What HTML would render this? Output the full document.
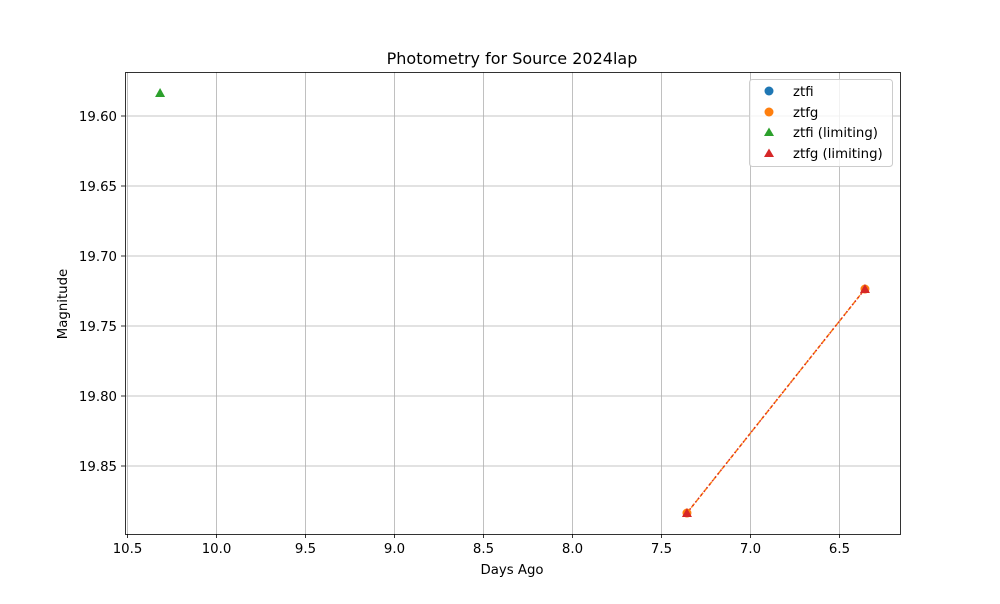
<!DOCTYPE html>
<html><head><meta charset="utf-8"><style>
body{margin:0;background:#fff;font-family:"DejaVu Sans","Liberation Sans",sans-serif}
svg text{font-family:"DejaVu Sans","Liberation Sans",sans-serif}
</style></head><body>
<svg id="chart" width="1000" height="600" xmlns="http://www.w3.org/2000/svg">
<rect width="1000" height="600" fill="#fff"/>
<g id="grid"></g>
<g id="ticks"></g>
<g id="series"></g>
<rect x="125.5" y="72.5" width="775" height="462" fill="none" stroke="#000" stroke-width="0.8"/>
<text x="512" y="64" text-anchor="middle" font-size="16">Photometry for Source 2024lap</text>
<text x="512" y="574" text-anchor="middle" font-size="13.3">Days Ago</text>
<text x="67" y="304" text-anchor="middle" font-size="13.3" transform="rotate(-90 67 304)">Magnitude</text>
<g>
<rect x="749.5" y="79.5" width="143" height="87" rx="3" fill="#fff" fill-opacity="0.8" stroke="#ccc"/>
<g><circle cx="769" cy="91" r="4.5" fill="#1f77b4"/><text x="793" y="96" font-size="13.3">ztfi</text></g>
<g><circle cx="769" cy="112" r="4.5" fill="#ff7f0e"/><text x="793" y="117" font-size="13.3">ztfg</text></g>
<g><path d="M769,127.5 L774,136 L764,136 Z" fill="#2ca02c"/><text x="793" y="137" font-size="13.3">ztfi (limiting)</text></g>
<g><path d="M769,148.5 L774,157 L764,157 Z" fill="#d62728"/><text x="793" y="158" font-size="13.3">ztfg (limiting)</text></g>
</g>
</svg>
<script>
const xTicks=[10.5,10.0,9.5,9.0,8.5,8.0,7.5,7.0,6.5];
const yTicks=[19.60,19.65,19.70,19.75,19.80,19.85];
const ztfgDays=[7.357,6.357];
const ztfgMag=[19.8836,19.7236];
const ztfiLimDays=[10.317];
const ztfiLimMag=[19.5836];
const ztfgLimDays=[7.357,6.357];
const ztfgLimMag=[19.8836,19.7236];
const NS="http://www.w3.org/2000/svg";
const xs=d=>127.5+(10.5-d)*178;
const ys=m=>116+(m-19.60)*1400;
function mk(t,a,p){const e=document.createElementNS(NS,t);for(const k in a)e.setAttribute(k,a[k]);p.appendChild(e);return e;}
const grid=document.getElementById('grid'),ticks=document.getElementById('ticks'),ser=document.getElementById('series');
xTicks.forEach(v=>{const x=xs(v);
 const g=mk('line',{x1:x,x2:x,y1:72,y2:534,stroke:'#b0b0b0','stroke-width':0.8},grid);
 
 
 mk('line',{x1:x,x2:x,y1:534,y2:538,stroke:'#000','stroke-width':0.8},ticks);
 const t=mk('text',{x:x,y:553,'text-anchor':'middle','font-size':13.3},ticks);t.textContent=v.toFixed(1);
 
 });
yTicks.forEach(v=>{const y=ys(v);
 const g=mk('line',{x1:125,x2:900,y1:y,y2:y,stroke:'#b0b0b0','stroke-width':0.8},grid);
 
 
 mk('line',{x1:121,x2:125,y1:y,y2:y,stroke:'#000','stroke-width':0.8},ticks);
 const t=mk('text',{x:117,y:y+5,'text-anchor':'end','font-size':13.3},ticks);t.textContent=v.toFixed(2);
 
 });
function path(ds,ms){return ds.map((d,i)=>(i?'L':'M')+xs(d)+','+ys(ms[i])).join(' ');}
const l1=mk('path',{d:path(ztfgDays,ztfgMag),fill:'none',stroke:'#ff7f0e','stroke-width':1.5,'stroke-dasharray':'5,2'},ser);


const l2=mk('path',{d:path(ztfgLimDays,ztfgLimMag),fill:'none',stroke:'#d62728','stroke-width':1.5,'stroke-dasharray':'1.5,3'},ser);


ztfgDays.forEach((d,i)=>{const c=mk('circle',{cx:xs(d),cy:ys(ztfgMag[i]),r:4.5,fill:'#ff7f0e'},ser);
 
 });
function tri(d,m,col,name){const x=xs(d),y=ys(m);
 const p=mk('path',{d:`M${x},${y-5} L${x+5},${y+4} L${x-5},${y+4} Z`,fill:col},ser);
 
 }
ztfiLimDays.forEach((d,i)=>tri(d,ztfiLimMag[i],'#2ca02c','ztfi-limiting-point'));
ztfgLimDays.forEach((d,i)=>tri(d,ztfgLimMag[i],'#d62728','ztfg-limiting-point'));
</script>
</body></html>
